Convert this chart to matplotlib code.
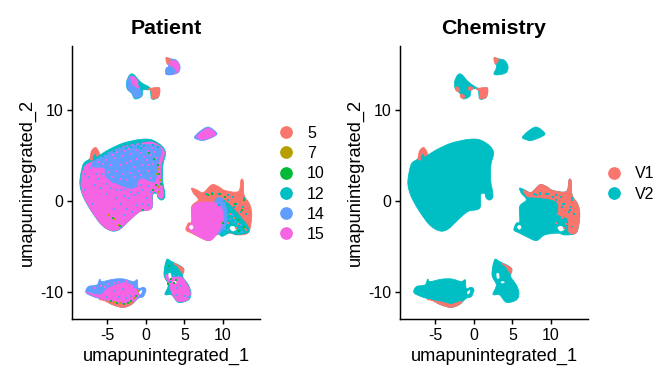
import matplotlib
matplotlib.use('Agg')
import matplotlib.pyplot as plt
from matplotlib.lines import Line2D
from matplotlib.patches import PathPatch
from matplotlib.path import Path

plt.rcParams['font.family'] = ['Liberation Sans', 'DejaVu Sans']
plt.rcParams['axes.unicode_minus'] = False

# ggplot hue colours
patient_labels = ['5', '7', '10', '12', '14', '15']
patient_colors = ['#F8766D', '#B79F00', '#00BA38', '#00BFC4', '#619CFF', '#F564E3']
chem_labels = ['V1', 'V2']
chem_colors = ['#F8766D', '#00BFC4']
red, olive, green, teal, blue, pink = patient_colors

x_ticks = [-5, 0, 5, 10]
y_ticks = [-10, 0, 10]

# cluster outlines (umap coordinates)
main_blob = [(-8.57, 2.3), (-8.3, 3.6), (-8.0, 4.2), (-7.2, 4.7), (-6.95, 5.5), (-6.5, 5.75), (-6.2, 5.3), (-6.0, 5.05),
             (-4.7, 5.68), (-2.94, 6.34), (-0.78, 6.74), (0.74, 6.7), (2.03, 6.04), (2.55, 5.24),
             (2.2, 3.96), (2.16, 2.3), (2.47, 0.6), (2.1, 0.1), (1.6, 0.3), (1.39, 0.8), (0.87, 0.65),
             (0.74, -0.8), (-0.78, -1.17), (-2.08, -2.09), (-3.38, -3.11), (-4.46, -3.3),
             (-5.76, -2.64), (-7.06, -1.17), (-8.05, 0.29), (-8.5, 1.4)]
main_pink = [(-8.4, 2.3), (-8.15, 3.4), (-7.7, 4.0), (-6.6, 4.4), (-5.9, 4.7), (-4.7, 5.3), (-2.94, 5.95), (-0.78, 6.3),
             (0.74, 6.45), (1.95, 5.9), (2.4, 5.2), (2.0, 3.96), (1.95, 2.3), (2.3, 0.7), (2.0, 0.25), (1.6, 0.5),
             (1.3, 1.0), (0.8, 0.75), (0.7, -0.85), (-0.78, -1.17), (-2.08, -2.09), (-3.38, -3.05), (-4.46, -3.25),
             (-5.76, -2.6), (-7.06, -1.1), (-8.0, 0.3), (-8.4, 1.4)]
main_blue = [(-6.49, 4.5), (-3.46, 5.75), (0, 6.2), (1.95, 5.7), (1.5, 3.96), (1.1, 2.12), (-0.65, 2.49), (-1.73, 1.39),
             (-3.9, 1.94), (-5.2, 2.67), (-5.41, 3.6), (-6.93, 3.77)]
main_red = [(-7.25, 4.6), (-7.05, 5.5), (-6.5, 5.85), (-6.05, 5.2), (-6.4, 4.9), (-6.55, 5.25), (-6.85, 5.0), (-6.95, 4.5)]

top_small = [(2.6, 15.68), (3.12, 15.6), (3.98, 15.42), (4.42, 14.76), (4.2, 14.1), (3.33, 13.85),
             (2.6, 13.92), (2.9, 14.58), (2.9, 15.13)]
top_small_pink = [(3.2, 15.3), (3.98, 15.3), (4.35, 14.76), (4.1, 14.2), (3.4, 14.0), (3.0, 14.6)]
top_small_red = [(2.6, 15.68), (3.12, 15.6), (3.1, 15.2), (2.9, 15.13), (2.75, 15.0)]
top_small_blue = [(2.65, 14.6), (3.3, 14.7), (3.8, 14.3), (3.33, 13.9), (2.6, 13.95)]

upper_left = [(-2.5, 13.11), (-2.08, 13.85), (-1.56, 13.85), (-0.78, 13.11), (0.3, 12.45),
              (1.1, 12.3), (1.73, 12.38), (1.6, 11.39), (0.74, 11.2), (0.52, 12.2), (-0.35, 12.2),
              (-0.56, 11.47), (-1.43, 11.2), (-1.86, 11.83), (-2.42, 12.27)]
upper_left_pink = [(-2.0, 13.6), (-1.5, 13.6), (-0.9, 12.9), (-0.8, 12.4), (-1.6, 12.7)]
upper_left_blue = [(-2.45, 13.1), (-2.0, 13.7), (-1.6, 12.8), (-1.0, 12.6), (-0.55, 11.6),
                   (-1.4, 11.3), (-1.85, 11.85), (-2.4, 12.3)]
upper_left_red = [(0.35, 12.3), (1.73, 12.38), (1.6, 11.39), (0.74, 11.25), (0.75, 12.0)]
upper_left_teal = [(-0.9, 13.0), (0.4, 12.5), (0.4, 12.2), (-0.35, 12.25), (-0.8, 12.5)]
upper_left_bits = [[(-2.4, 12.5), (-2.0, 12.4), (-1.9, 12.0), (-2.3, 12.1)],
                   [(-1.7, 11.75), (-1.2, 11.5), (-1.4, 11.25), (-1.75, 11.4)],
                   [(-0.7, 12.5), (-0.2, 12.45), (-0.3, 12.15), (-0.7, 12.2)]]

right_small = [(6.3, 7.0), (7.0, 7.62), (8.1, 8.1), (9.18, 7.44), (8.83, 7.07), (7.45, 6.63), (6.58, 6.78)]
right_small_pink = [(6.6, 7.0), (7.1, 7.5), (8.1, 7.95), (9.0, 7.44), (8.7, 7.1), (7.45, 6.75)]

right_big = [(5.93, 1.39), (6.58, 1.21), (7.45, 0.92), (8.53, 1.76), (9.39, 1.58), (10.26, 1.14),
             (11.99, 1.03), (12.34, 2.31), (12.64, 2.12), (12.73, 0.66), (13.5, -0.44), (13.72, -1.72),
             (13.29, -3.48), (11.77, -3.74), (10.9, -3.55), (9.18, -3.74), (8.1, -4.36), (6.8, -3.92),
             (5.93, -3.55), (5.19, -3.19), (5.5, -2.45), (5.93, -2.27), (5.93, -0.62), (6.8, 0.11), (6.15, 0.84)]
right_big_red = [(6.4, 1.2), (7.45, 0.92), (8.53, 1.76), (9.39, 1.58), (10.26, 1.14), (11.99, 1.03),
                 (12.34, 2.31), (12.64, 2.12), (12.73, 0.66), (13.5, -0.44), (13.72, -1.72), (13.29, -3.48),
                 (12.3, -3.4), (12.2, -2.0), (11.0, -1.5), (10.9, -0.3), (9.8, 0.2), (8.0, 0.4), (6.9, 0.5)]
right_big_teal = [(9.8, -0.3), (10.5, -0.2), (11.5, -1.0), (12.5, -2.0), (13.2, -2.8), (13.3, -3.45), (11.8, -3.7),
                  (10.9, -3.5), (9.6, -3.7)]
right_big_blue = [(9.0, 0.1), (10.0, 0.2), (10.5, -1.2), (10.4, -2.6), (9.2, -3.7), (8.9, -2.0)]
right_big_pink = [(6.0, -0.8), (6.8, -0.2), (8.75, -0.2), (9.8, -0.8), (10.0, -2.2), (9.5, -3.2), (8.75, -4.1),
                  (8.1, -4.36), (6.8, -3.92), (5.93, -3.4), (5.5, -3.0), (5.95, -2.27)]
right_big_holes = [[(10.9, -2.95), (11.3, -2.8), (11.7, -3.1), (11.25, -3.3)],
                   [(5.65, -2.85), (5.95, -2.7), (6.1, -2.95), (5.85, -3.1)]]

lower_left = [(-7.79, -10.07), (-7.47, -9.41), (-6.36, -9.23), (-6.0, -8.6), (-5.7, -8.86), (-4.2, -8.6),
              (-2.94, -8.57), (-1.65, -8.86), (-1.13, -8.68), (-1.0, -9.6), (-0.35, -9.49), (0, -9.78),
              (-0.35, -10.51), (-1.0, -10.7), (-1.86, -11.36), (-2.94, -11.69), (-4.24, -11.43),
              (-5.54, -10.88), (-6.84, -10.51)]
lower_left_pink = [(-7.7, -10.05), (-6.0, -10.3), (-4.7, -9.5), (-2.5, -9.0), (-1.0, -10.0), (-1.4, -10.9),
                   (-2.94, -11.2), (-4.7, -10.95), (-6.4, -10.55)]
lower_left_red = [(-6.0, -10.85), (-4.24, -11.1), (-2.94, -11.35), (-1.6, -11.0), (-1.86, -11.36),
                  (-2.94, -11.69), (-4.24, -11.43), (-5.54, -10.88)]
lower_left_holes = [[(-0.85, -10.05), (-0.55, -9.85), (-0.7, -10.2)]]

lower_mid = [(2.68, -6.48), (3.33, -6.67), (4.85, -7.4), (4.76, -8.3), (5.5, -9.23), (5.84, -10.15),
             (5.5, -10.88), (4.2, -11.14), (3.33, -10.33), (2.47, -10.26), (2.9, -9.23), (2.34, -8.13)]
lower_mid_pink = [(2.5, -8.1), (3.4, -8.4), (4.6, -8.4), (5.4, -9.3), (5.75, -10.15), (5.4, -10.85),
                  (4.2, -11.05), (3.4, -10.2), (3.0, -9.2)]
lower_mid_red = [(3.6, -6.85), (4.85, -7.4), (4.76, -7.95), (4.2, -7.3)]
lower_mid_holes = [[(2.98, -8.0), (3.18, -8.0), (3.25, -8.45), (3.02, -8.45)],
                   [(3.55, -8.9), (3.85, -8.88), (3.9, -8.98), (3.6, -9.0)]]

# single cells that stand out from the cluster underneath
pink_in_band = [(-6.2, 4.3), (-5.6, 4.1), (-5.2, 4.5), (-4.6, 3.9), (-4.0, 4.7), (-3.4, 3.9), (-3.1, 4.9),
                (-2.4, 4.2), (-2.0, 5.1), (-1.6, 3.7), (-1.2, 4.6), (-0.7, 5.2), (-0.4, 3.9), (0.1, 4.5),
                (0.3, 3.3), (-0.6, 2.8), (-1.5, 2.6), (-2.1, 3.1), (-3.0, 3.0), (0.6, 2.5), (0.9, 4.1),
                (-4.9, 3.2), (-3.7, 3.3), (-2.4, 2.3), (-4.3, 5.0), (-2.7, 5.5), (-1.3, 5.6), (0.2, 5.5),
                (-0.9, 3.3), (-3.2, 2.4), (-4.4, 2.6), (-1.9, 4.4), (-0.3, 4.8), (0.5, 5.0), (1.1, 5.4),
                (0.8, 5.8), (1.3, 4.7), (0.4, 3.9), (-1.0, 5.9), (-0.1, 5.9), (-3.7, 5.4), (-2.2, 5.7)]
blue_in_pink = [(-7.9, 2.9), (-7.2, 3.6), (-6.5, 3.0), (-6.2, 2.4), (-5.7, 2.9), (-5.0, 1.9), (-4.6, 1.4), (-3.9, 1.2),
                (-3.2, 1.2), (-2.7, 0.5), (-2.2, 0.3), (-1.6, 0.6), (-1.0, 0.9), (-0.4, 1.2), (0.2, 1.6), (0.1, 0.3),
                (-0.4, -0.3), (-1.3, -0.5), (-2.4, -0.9), (-3.3, -0.3), (-3.9, 0.3), (-5.0, 0.7), (-5.9, 1.4),
                (-6.8, 1.7), (-2.9, -1.6), (-1.8, -1.2), (-4.2, -0.9), (0.3, -0.5), (-2.0, 1.0), (-0.7, 1.7),
                (0.7, 1.0), (-7.4, 2.6), (-4.4, 2.1), (-2.9, 1.3), (-1.2, 1.6), (-7.9, 1.2), (-7.0, -0.4), (-3.3, -2.9)]
teal_on_main = [(-7.9, 4.0), (-7.4, 4.3), (-5.6, 4.95), (-5.2, 5.15), (-4.2, 5.5), (-3.2, 5.9), (-2.2, 6.1), (-1.4, 6.2),
                (-0.8, 6.2), (-0.3, 6.05), (-1.0, 5.95), (-0.6, 5.85), (0.9, 6.15), (1.5, 5.9), (-2.6, 5.8), (-1.9, 5.9)]
green_on_main = [(0.4, 5.2), (1.0, 4.6), (1.5, 3.96), (1.7, 2.9), (1.3, 1.76), (1.9, 1.8), (0.87, 1.2), (-4.3, -1.9),
                 (-3.4, -2.8), (-0.4, -1.0)]
olive_on_main = [(1.5, 3.5), (1.45, 3.0), (1.8, 2.3), (1.5, 1.5), (-4.76, -1.54), (-4.1, -2.0), (-3.5, -2.6), (1.7, 1.0)]
teal_on_right = [(9.5, -0.5), (10.1, 0.0), (11.3, 0.4), (10.6, 0.1), (12.6, -0.7), (11.7, -0.4), (13.0, -1.4),
                 (12.3, -1.2), (8.6, 0.9), (7.8, 0.7), (9.3, 0.8), (10.7, 0.6), (11.4, -0.7), (12.7, 0.3)]
green_on_right = [(8.0, 0.6), (8.6, 0.8), (9.6, 0.8), (10.3, 0.4), (11.5, -0.4), (12.4, -1.0), (11.9, -2.1),
                  (12.7, -2.9), (12.1, -3.3), (10.0, -2.4), (12.7, 0.1)]
red_on_right = [(12.0, -2.5), (11.4, -1.9), (12.8, -3.0), (10.9, -1.4), (11.7, -3.0), (10.7, -2.4), (13.0, -3.2)]
blue_on_right = [(10.9, -2.0), (11.5, -2.3), (10.2, -3.1), (12.4, -3.4), (11.2, -1.6), (10.6, -3.2), (12.3, -2.7)]
blue_on_lower = [(-7.2, -9.9), (-6.5, -9.8), (-5.7, -10.0), (-5.0, -10.5), (-3.5, -10.5), (-2.6, -10.7),
                 (-2.0, -10.4), (-4.2, -9.9), (-1.5, -9.5), (-3.0, -9.7)]
pink_on_lower = [(-6.6, -9.6), (-5.9, -9.4), (-5.3, -9.5), (-4.9, -9.1), (-4.2, -9.0), (-3.6, -8.9), (-2.5, -8.8)]
green_on_lower = [(-3.7, -11.2), (-2.9, -11.3), (-2.3, -11.2), (-1.9, -11.0), (-1.3, -10.4), (-4.6, -10.95)]
olive_on_lower = [(-4.2, -11.05), (-3.2, -11.2), (-2.1, -11.1), (-1.5, -10.7), (-1.0, -9.9)]
teal_on_mid = [(3.2, -7.0), (2.9, -7.6), (3.8, -7.3), (3.4, -7.9), (3.0, -9.4), (2.6, -10.2), (3.1, -8.9)]
green_on_mid = [(3.0, -7.2), (3.2, -8.6), (2.9, -9.1), (3.6, -9.0), (3.9, -8.7)]
blue_on_mid = [(4.0, -9.6), (4.6, -9.4), (3.9, -10.3), (4.9, -10.4), (5.5, -10.5), (4.3, -8.2), (3.7, -8.3)]


def smooth_path(outline):
    # closed Catmull-Rom outline as bezier segments
    n = len(outline)
    verts = [outline[0]]
    codes = [Path.MOVETO]
    for i in range(n):
        p0, p1, p2, p3 = outline[i - 1], outline[i], outline[(i + 1) % n], outline[(i + 2) % n]
        verts.append((p1[0] + (p2[0] - p0[0]) / 6, p1[1] + (p2[1] - p0[1]) / 6))
        verts.append((p2[0] - (p3[0] - p1[0]) / 6, p2[1] - (p3[1] - p1[1]) / 6))
        verts.append(p2)
        codes += [Path.CURVE4] * 3
    return Path(verts, codes)


def draw(ax, outline, color):
    ax.add_patch(PathPatch(smooth_path(outline), facecolor=color, edgecolor=color, lw=0.6, zorder=2))


def specks(ax, cells, color, size=4):
    ax.scatter(*zip(*cells), s=size, c=color, marker='s', linewidths=0, zorder=3)


def style(ax, title):
    ax.set_xlim(-9.6, 14.8)
    ax.set_ylim(-12.97, 17.0)
    ax.set_xticks(x_ticks)
    ax.set_yticks(y_ticks)
    ax.spines['top'].set_visible(False)
    ax.spines['right'].set_visible(False)
    ax.spines['left'].set_linewidth(1.1)
    ax.spines['bottom'].set_linewidth(1.1)
    ax.tick_params(labelsize=12, length=3.5, width=1.1, pad=3)
    ax.set_xlabel('umapunintegrated_1', fontsize=13.7, labelpad=4)
    ax.set_ylabel('umapunintegrated_2', fontsize=13.7, labelpad=3)
    ax.set_title(title, fontsize=16, fontweight='bold', pad=9)


fig = plt.figure(figsize=(7, 4), dpi=96)
ax1 = fig.add_axes([72 / 672, 1 - 319 / 384, 188 / 672, 273 / 384])
ax2 = fig.add_axes([400 / 672, 1 - 319 / 384, 188 / 672, 273 / 384])

# Patient panel
for outline, color in [(main_blob, teal), (main_red, red), (main_pink, pink), (main_blue, blue),
                       (top_small, blue), (top_small_pink, pink),
                       (top_small_blue, blue), (top_small_red, red), (upper_left, teal),
                       (upper_left_blue, blue), (upper_left_pink, pink), (upper_left_teal, teal),
                       (upper_left_red, red), (right_small, blue), (right_small_pink, pink),
                       (right_big, red), (right_big_teal, teal), (right_big_blue, blue),
                       (right_big_pink, pink), (lower_left, blue), (lower_left_red, red),
                       (lower_left_pink, pink), (lower_mid, teal), (lower_mid_pink, pink),
                       (lower_mid_red, red)]:
    draw(ax1, outline, color)
for hole in right_big_holes + lower_left_holes + lower_mid_holes:
    draw(ax1, hole, 'white')
for cells, color in [(pink_in_band, pink), (blue_in_pink, blue), (teal_on_main, teal),
                     (teal_on_right, teal), (red_on_right, red), (blue_on_right, blue),
                     (blue_on_lower, blue), (pink_on_lower, pink), (teal_on_mid, teal),
                     (blue_on_mid, blue)]:
    specks(ax1, cells, color)
for cells, color in [(olive_on_main, olive), (green_on_main, green), (green_on_right, green),
                     (olive_on_lower, olive), (green_on_lower, green), (green_on_mid, green)]:
    specks(ax1, cells, color, 2.5)
style(ax1, 'Patient')

# Chemistry panel
for outline, color in [(main_blob, teal), (main_red, red), (top_small, teal), (top_small_red, red),
                       (upper_left, teal), (upper_left_red, red), (right_small, teal),
                       (right_big, teal), (right_big_red, red), (lower_left, teal), (lower_left_red, red),
                       (lower_mid, teal), (lower_mid_red, red)]:
    draw(ax2, outline, color)
for bit in upper_left_bits:
    draw(ax2, bit, red)
for hole in right_big_holes + lower_left_holes + lower_mid_holes:
    draw(ax2, hole, 'white')
specks(ax2, teal_on_right, teal)
specks(ax2, green_on_right, teal)
specks(ax2, red_on_right, red)
style(ax2, 'Chemistry')

handles1 = [Line2D([], [], ls='', marker='o', ms=8.5, color=c) for c in patient_colors]
handles2 = [Line2D([], [], ls='', marker='o', ms=8.5, color=c) for c in chem_colors]
ax1.legend(handles1, patient_labels, loc='center left', bbox_to_anchor=(1.055, 0.495), frameon=False,
           fontsize=12, labelspacing=0.33, handletextpad=0.3, borderpad=0, borderaxespad=0)
ax2.legend(handles2, chem_labels, loc='center left', bbox_to_anchor=(1.055, 0.495), frameon=False,
           fontsize=12, labelspacing=0.33, handletextpad=0.3, borderpad=0, borderaxespad=0)

fig.savefig('out.png', dpi=96)
